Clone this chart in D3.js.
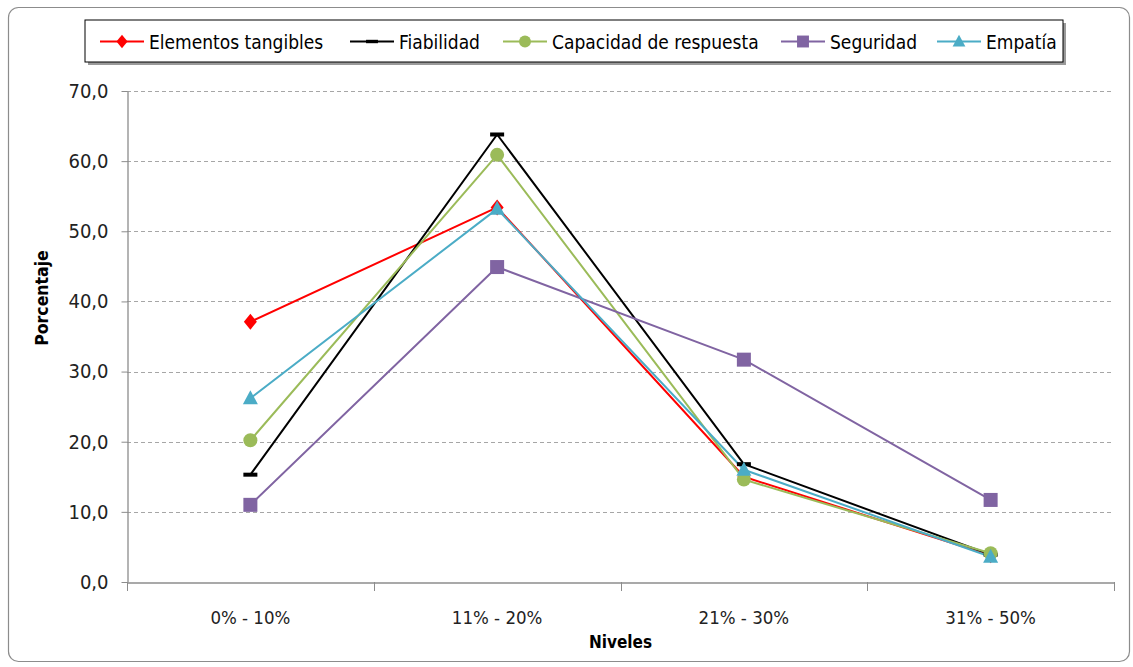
<!DOCTYPE html>
<html>
<head>
<meta charset="utf-8">
<script src="https://cdn.jsdelivr.net/npm/d3@7"></script>
<style>
  html, body { margin: 0; padding: 0; background: #fff; }
  svg { display: block; }
  text { font-family: "DejaVu Sans Condensed", "Liberation Sans", sans-serif; }
</style>
</head>
<body>
<svg id="chart" width="1133" height="667"></svg>
<script>
// Niveles (categorías del eje X)
const categories = ["0% - 10%", "11% - 20%", "21% - 30%", "31% - 50%"];

// Porcentajes por dimensión
const tangibles  = [37.1, 53.4, 15.0, 3.8];
const fiabilidad = [15.3, 63.8, 16.8, 3.9];
const capacidad  = [20.2, 60.9, 14.6, 4.1];
const seguridad  = [11.0, 44.9, 31.7, 11.7];
const empatia    = [26.2, 53.2, 16.0, 3.6];

const yTicks = [0, 10, 20, 30, 40, 50, 60, 70];

const series = [
  { name: "Elementos tangibles",    values: tangibles,  color: "#FF0000", symbol: "diamond" },
  { name: "Fiabilidad",             values: fiabilidad, color: "#000000", symbol: "dash" },
  { name: "Capacidad de respuesta", values: capacidad,  color: "#9BBB59", symbol: "circle" },
  { name: "Seguridad",              values: seguridad,  color: "#8064A2", symbol: "square" },
  { name: "Empatía",                values: empatia,    color: "#4BACC6", symbol: "triangle" }
];

const svg = d3.select("#chart");
const fmt = d => d.toFixed(1).replace(".", ",");

// Marco exterior
svg.append("rect")
  .attr("x", 8.5).attr("y", 7.5).attr("width", 1121).attr("height", 654)
  .attr("rx", 10).attr("fill", "#fff").attr("stroke", "#8c8c8c").attr("stroke-width", 1.2);

const plot = { left: 127, right: 1114, top: 91, bottom: 582 };

const x = d3.scaleBand().domain(categories).range([plot.left, plot.right]);
const y = d3.scaleLinear().domain([0, 70]).range([plot.bottom, plot.top]);

// Líneas de cuadrícula
svg.append("g").selectAll("line").data(yTicks.filter(d => d > 0)).join("line")
  .attr("x1", plot.left).attr("x2", plot.right)
  .attr("y1", d => Math.round(y(d)) + 0.5).attr("y2", d => Math.round(y(d)) + 0.5)
  .attr("stroke", "#a6a6a6").attr("stroke-width", 1).attr("stroke-dasharray", "4,3");

// Eje Y
const yAxis = svg.append("g")
  .attr("transform", `translate(${plot.left + 0.5},0)`)
  .call(d3.axisLeft(y).tickValues(yTicks).tickFormat(fmt).tickSize(6).tickSizeOuter(0));
yAxis.select(".domain").attr("stroke", "#8c8c8c").attr("stroke-width", 1.3);
yAxis.selectAll(".tick line").attr("stroke", "#8c8c8c");
yAxis.selectAll(".tick text")
  .attr("x", -19).attr("fill", "#222").attr("font-size", 20)
  .style("font-family", "\"DejaVu Sans Condensed\", sans-serif");

// Eje X
const xAxis = svg.append("g")
  .attr("transform", `translate(0,${plot.bottom + 0.5})`)
  .call(d3.axisBottom(x).tickSize(0).tickSizeOuter(0));
xAxis.select(".domain").attr("stroke", "#8c8c8c").attr("stroke-width", 1.3);
xAxis.selectAll(".tick text")
  .attr("y", 28).attr("fill", "#222").attr("font-size", 18.5)
  .style("font-family", "\"DejaVu Sans Condensed\", sans-serif");
// marcas entre categorías
const bounds = categories.map(c => x(c)).concat([x(categories[categories.length - 1]) + x.bandwidth()]);
svg.append("g").selectAll("line").data(bounds).join("line")
  .attr("x1", d => Math.round(d) + 0.5).attr("x2", d => Math.round(d) + 0.5)
  .attr("y1", plot.bottom).attr("y2", plot.bottom + 9)
  .attr("stroke", "#8c8c8c").attr("stroke-width", 1);

// Títulos de ejes
svg.append("text")
  .attr("transform", `translate(48,298) rotate(-90)`)
  .attr("text-anchor", "middle").attr("font-weight", "bold").attr("font-size", 17.5)
  .attr("fill", "#000").text("Porcentaje");
svg.append("text")
  .attr("x", (plot.left + plot.right) / 2).attr("y", 648)
  .attr("text-anchor", "middle").attr("font-weight", "bold").attr("font-size", 17)
  .attr("fill", "#000").text("Niveles");

// Dibujo de marcadores
function drawMarker(g, symbol, color, cx, cy, scale) {
  const s = scale || 1;
  if (symbol === "diamond") {
    g.append("path").attr("d", `M${cx},${cy - 8 * s}L${cx + 6.5 * s},${cy}L${cx},${cy + 8 * s}L${cx - 6.5 * s},${cy}Z`).attr("fill", color);
  } else if (symbol === "dash") {
    g.append("rect").attr("x", cx - 7 * s).attr("y", cy - 2 * s).attr("width", 14 * s).attr("height", 4 * s).attr("fill", color);
  } else if (symbol === "circle") {
    g.append("circle").attr("cx", cx).attr("cy", cy).attr("r", 7 * s).attr("fill", color);
  } else if (symbol === "square") {
    g.append("rect").attr("x", cx - 7 * s).attr("y", cy - 7 * s).attr("width", 14 * s).attr("height", 14 * s).attr("fill", color);
  } else if (symbol === "triangle") {
    g.append("path").attr("d", `M${cx},${cy - 8 * s}L${cx + 7.5 * s},${cy + 6 * s}L${cx - 7.5 * s},${cy + 6 * s}Z`).attr("fill", color);
  }
}

const cx = c => x(c) + x.bandwidth() / 2;
const line = d3.line().x((d, i) => cx(categories[i])).y(d => y(d));

const linesG = svg.append("g");
series.forEach(s => {
  linesG.append("path").datum(s.values)
    .attr("d", line).attr("fill", "none")
    .attr("stroke", s.color).attr("stroke-width", 2).attr("stroke-linejoin", "round");
});
const marksG = svg.append("g");
series.forEach(s => {
  s.values.forEach((v, i) => drawMarker(marksG, s.symbol, s.color, cx(categories[i]), y(v), 1));
});

// Leyenda
const legend = svg.append("g");
const legBox = { x: 85, y: 20, w: 978, h: 42 };
legend.append("rect").attr("x", legBox.x + 3).attr("y", legBox.y + 3)
  .attr("width", legBox.w).attr("height", legBox.h).attr("fill", "#9a9a9a");
legend.append("rect").attr("x", legBox.x).attr("y", legBox.y)
  .attr("width", legBox.w).attr("height", legBox.h).attr("fill", "#fff")
  .attr("stroke", "#000").attr("stroke-width", 1);

const legendX = [100, 350, 503, 781, 937];
series.forEach((s, i) => {
  const lx = legendX[i], ly = legBox.y + legBox.h / 2 + 0.5;
  legend.append("line").attr("x1", lx).attr("x2", lx + 44).attr("y1", ly).attr("y2", ly)
    .attr("stroke", s.color).attr("stroke-width", 2);
  drawMarker(legend, s.symbol, s.color, lx + 22, ly, 0.85);
  legend.append("text").attr("x", lx + 49).attr("y", ly + 7)
    .attr("font-size", 19).attr("fill", "#000").text(s.name);
});
</script>
</body>
</html>
